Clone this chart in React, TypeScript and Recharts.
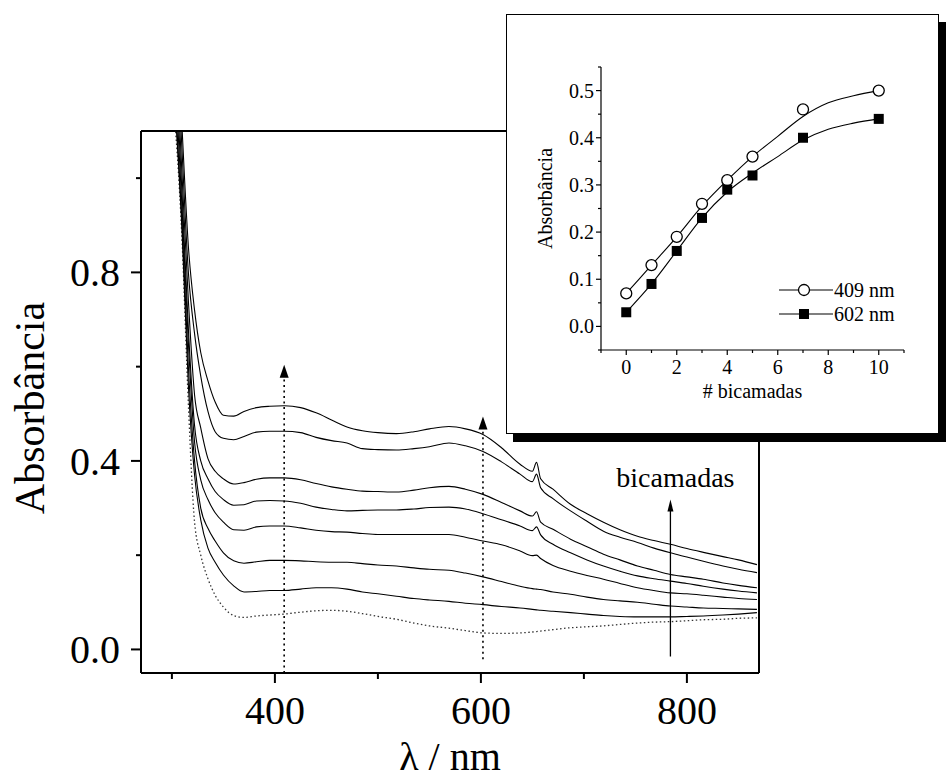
import { ComposedChart, Legend, Line, LineChart, ReferenceLine, XAxis, YAxis } from "recharts";

const FONT = "'Liberation Serif', 'Times New Roman', serif";

// UV-vis spectra, one per number of bilayers (0 = dotted baseline film)
const wavelengths = [
  300, 310, 316, 322, 328, 335, 342, 350, 360, 370, 382, 395, 409, 425, 440, 455, 470, 485, 500, 518, 535,
  550, 569, 585, 602, 620, 638, 650, 654, 658, 670, 687, 703, 719, 735, 752, 768, 784, 800, 816, 835, 850, 868,
];
const spectrum0 = [
  1.2, 0.86, 0.52, 0.27, 0.2, 0.15, 0.115, 0.09, 0.072, 0.068, 0.071, 0.073, 0.075, 0.079, 0.082, 0.083, 0.081,
  0.076, 0.07, 0.064, 0.056, 0.05, 0.045, 0.04, 0.035, 0.034, 0.035, 0.037, 0.038, 0.039, 0.042, 0.046, 0.048,
  0.05, 0.053, 0.056, 0.058, 0.059, 0.061, 0.063, 0.064, 0.066, 0.067,
];
const spectrum1 = [
  1.25, 0.88, 0.56, 0.37, 0.275, 0.215, 0.185, 0.158, 0.135, 0.122, 0.123, 0.125, 0.125, 0.128, 0.131, 0.131,
  0.128, 0.122, 0.118, 0.113, 0.108, 0.105, 0.102, 0.098, 0.095, 0.091, 0.088, 0.085, 0.084, 0.083, 0.081, 0.078,
  0.075, 0.072, 0.07, 0.069, 0.069, 0.069, 0.07, 0.071, 0.073, 0.075, 0.078,
];
const spectrum2 = [
  1.3, 0.9, 0.6, 0.4, 0.3, 0.257, 0.23, 0.205, 0.188, 0.183, 0.186, 0.189, 0.189, 0.188, 0.186, 0.185, 0.185,
  0.182, 0.179, 0.177, 0.173, 0.17, 0.168, 0.162, 0.154, 0.144, 0.134, 0.129, 0.128, 0.127, 0.122, 0.117, 0.111,
  0.106, 0.103, 0.1, 0.096, 0.092, 0.09, 0.088, 0.087, 0.086, 0.085,
];
const spectrum3 = [
  1.35, 0.93, 0.65, 0.44, 0.36, 0.318, 0.29, 0.27, 0.254, 0.253, 0.26, 0.262, 0.262, 0.258, 0.253, 0.25, 0.249,
  0.246, 0.244, 0.244, 0.244, 0.244, 0.244, 0.238, 0.23, 0.222, 0.209, 0.199, 0.2, 0.193, 0.178, 0.166, 0.157,
  0.149, 0.14, 0.131, 0.125, 0.12, 0.118, 0.115, 0.111, 0.108, 0.106,
];
const spectrum4 = [
  1.4, 0.96, 0.68, 0.475, 0.4, 0.362, 0.335, 0.318, 0.306, 0.307, 0.315, 0.316, 0.315, 0.31, 0.302, 0.297,
  0.294, 0.295, 0.296, 0.296, 0.298, 0.301, 0.302, 0.298, 0.288, 0.275, 0.262, 0.252, 0.26, 0.243, 0.223, 0.205,
  0.19, 0.177, 0.166, 0.156, 0.15, 0.145, 0.14, 0.134, 0.128, 0.124, 0.12,
];
const spectrum5 = [
  1.45, 1.0, 0.74, 0.54, 0.47, 0.405, 0.378, 0.362, 0.351, 0.354, 0.361, 0.364, 0.364, 0.36, 0.352, 0.345,
  0.34, 0.336, 0.335, 0.334, 0.338, 0.343, 0.346, 0.34, 0.329, 0.312, 0.294, 0.283, 0.292, 0.27, 0.255, 0.234,
  0.218, 0.202, 0.19, 0.177, 0.168, 0.159, 0.154, 0.149, 0.141, 0.136, 0.131,
];
const spectrum6 = [
  1.5, 1.05, 0.8, 0.67, 0.58, 0.505, 0.462, 0.448, 0.445, 0.452, 0.461, 0.463, 0.463, 0.46, 0.45, 0.443, 0.438,
  0.426, 0.424, 0.423, 0.426, 0.43, 0.438, 0.432, 0.42, 0.398, 0.372, 0.356, 0.372, 0.343, 0.32, 0.294, 0.272,
  0.251, 0.238, 0.227, 0.215, 0.205, 0.196, 0.187, 0.177, 0.17, 0.163,
];
const spectrum7 = [
  1.6, 1.1, 0.855, 0.72, 0.63, 0.57, 0.525, 0.497, 0.495, 0.505, 0.513, 0.516, 0.517, 0.513, 0.502, 0.487, 0.472,
  0.464, 0.46, 0.458, 0.462, 0.468, 0.473, 0.468, 0.456, 0.428, 0.393, 0.378, 0.397, 0.362, 0.34, 0.308, 0.288,
  0.27, 0.254, 0.24, 0.231, 0.223, 0.214, 0.206, 0.197, 0.19, 0.18,
];
const spectra = [spectrum0, spectrum1, spectrum2, spectrum3, spectrum4, spectrum5, spectrum6, spectrum7];

const xTicks = [300, 400, 500, 600, 700, 800];
const xTickLabels = ["", "400", "", "600", "", "800"];
const yTicks = [0, 0.2, 0.4, 0.6, 0.8, 1.0];
const yTickLabels = ["0.0", "", "0.4", "", "0.8", ""];

// arrows drawn on the spectra (wavelength, from absorbance, to absorbance)
const arrow409 = { x: 409, from: -0.05, to: 0.604 };
const arrow602 = { x: 602, from: -0.021, to: 0.494 };
const arrowLayers = { x: 784, from: -0.015, to: 0.318, text: "bicamadas" };

// inset: absorbance vs number of bilayers
const bilayers = [0, 1, 2, 3, 4, 5, 7, 10];
const abs409 = [0.07, 0.13, 0.19, 0.26, 0.31, 0.36, 0.46, 0.5];
const abs602 = [0.03, 0.09, 0.16, 0.23, 0.29, 0.32, 0.4, 0.44];
const fitBilayers = [0, 1, 2, 3, 4, 5, 6, 7, 8, 9, 10];
const fit409 = [0.07, 0.13, 0.19, 0.255, 0.31, 0.36, 0.403, 0.445, 0.474, 0.489, 0.5];
const fit602 = [0.03, 0.09, 0.16, 0.23, 0.285, 0.325, 0.36, 0.395, 0.418, 0.431, 0.44];
const insetNames = ["409 nm", "602 nm"];

const insetXTicks = [-1, 0, 1, 2, 3, 4, 5, 6, 7, 8, 9, 10, 11];
const insetXLabels = ["", "0", "", "2", "", "4", "", "6", "", "8", "", "10", ""];
const insetYTicks = [-0.05, 0, 0.05, 0.1, 0.15, 0.2, 0.25, 0.3, 0.35, 0.4, 0.45, 0.5, 0.55];
const insetYLabels = ["", "0.0", "", "0.1", "", "0.2", "", "0.3", "", "0.4", "", "0.5", ""];

const rows = wavelengths.map((w, i) => {
  const row: Record<string, number> = { w };
  spectra.forEach((s, k) => {
    row[`s${k}`] = s[i];
  });
  return row;
});
const markers409 = bilayers.map((x, i) => ({ x, y: abs409[i] }));
const markers602 = bilayers.map((x, i) => ({ x, y: abs602[i] }));
const curve409 = fitBilayers.map((x, i) => ({ x, y: fit409[i] }));
const curve602 = fitBilayers.map((x, i) => ({ x, y: fit602[i] }));

function MainXTick(props: any) {
  const { x, y, payload } = props;
  const label = xTickLabels[xTicks.indexOf(payload.value)];
  const len = label ? 10 : 6;
  return (
    <g>
      <line x1={x} x2={x} y1={y} y2={y + len} stroke="#000" strokeWidth={2} />
      {label && (
        <text x={x} y={y + 51} textAnchor="middle" fill="#000" style={{ fontFamily: FONT, fontSize: 40 }}>
          {label}
        </text>
      )}
    </g>
  );
}

function MainYTick(props: any) {
  const { x, y, payload } = props;
  const label = yTickLabels[yTicks.indexOf(payload.value)];
  const len = label ? 10 : 5;
  return (
    <g>
      <line x1={x - len} x2={x} y1={y} y2={y} stroke="#000" strokeWidth={2} />
      {label && (
        <text x={x - 21} y={y + 14} textAnchor="end" fill="#000" style={{ fontFamily: FONT, fontSize: 40 }}>
          {label}
        </text>
      )}
    </g>
  );
}

function InsetXTick(props: any) {
  const { x, y, payload } = props;
  const label = insetXLabels[insetXTicks.indexOf(payload.value)];
  return (
    <g>
      <line x1={x} x2={x} y1={y} y2={y + (label ? 5 : 3)} stroke="#000" strokeWidth={1.2} />
      {label && (
        <text x={x} y={y + 24} textAnchor="middle" fill="#000" style={{ fontFamily: FONT, fontSize: 20 }}>
          {label}
        </text>
      )}
    </g>
  );
}

function InsetYTick(props: any) {
  const { x, y, payload } = props;
  const label = insetYLabels[insetYTicks.indexOf(payload.value)];
  return (
    <g>
      <line x1={x - (label ? 5 : 3)} x2={x} y1={y} y2={y} stroke="#000" strokeWidth={1.2} />
      {label && (
        <text x={x - 7} y={y + 7} textAnchor="end" fill="#000" style={{ fontFamily: FONT, fontSize: 20 }}>
          {label}
        </text>
      )}
    </g>
  );
}

function arrowShape(dashed: boolean, text?: string) {
  return (p: any) => {
    const x = p.x1;
    const top = Math.min(p.y1, p.y2);
    const bottom = Math.max(p.y1, p.y2);
    const headH = dashed ? 13 : 12;
    const headW = dashed ? 4.5 : 3;
    return (
      <g>
        <line
          x1={x}
          x2={x}
          y1={bottom}
          y2={top + headH - 1}
          stroke="#000"
          strokeWidth={dashed ? 1.6 : 1.3}
          strokeDasharray={dashed ? "2 3.5" : undefined}
        />
        <polygon points={`${x},${top} ${x - headW},${top + headH} ${x + headW},${top + headH}`} fill="#000" />
        {text && (
          <text x={x + 5} y={top - 13} textAnchor="middle" fill="#000" style={{ fontFamily: FONT, fontSize: 28 }}>
            {text}
          </text>
        )}
      </g>
    );
  };
}

function MainChart() {
  return (
    <LineChart width={946} height={778} data={rows} margin={{ top: 131, right: 187, left: 41, bottom: 35 }}>
      <XAxis
        dataKey="w"
        type="number"
        domain={[270, 870]}
        allowDataOverflow
        ticks={xTicks}
        interval={0}
        tickSize={0}
        tickMargin={0}
        tickLine={false}
        tick={MainXTick}
        height={70}
        axisLine={{ stroke: "#000", strokeWidth: 2 }}
        label={(p: any) => (
          <text
            x={p.viewBox.x + p.viewBox.width / 2}
            y={p.viewBox.y + 97}
            textAnchor="middle"
            fill="#000"
            style={{ fontFamily: FONT, fontSize: 40 }}
          >
            λ / nm
          </text>
        )}
      />
      <YAxis
        type="number"
        domain={[-0.05, 1.1]}
        allowDataOverflow
        ticks={yTicks}
        interval={0}
        tickSize={0}
        tickMargin={0}
        tickLine={false}
        tick={MainYTick}
        width={100}
        axisLine={{ stroke: "#000", strokeWidth: 2 }}
        label={(p: any) => {
          const cx = p.viewBox.x + 3;
          const cy = p.viewBox.y + p.viewBox.height / 2 + 6;
          return (
            <text
              x={cx}
              y={cy}
              textAnchor="middle"
              fill="#000"
              transform={`rotate(-90 ${cx} ${cy})`}
              style={{ fontFamily: FONT, fontSize: 42 }}
            >
              Absorbância
            </text>
          );
        }}
      />
      <ReferenceLine y={1.1} stroke="#000" strokeWidth={2} />
      <ReferenceLine x={870} stroke="#000" strokeWidth={2} />
      {spectra.map((_, k) => (
        <Line
          key={k}
          type="monotone"
          dataKey={`s${k}`}
          stroke={k === 0 ? "#333" : "#000"}
          strokeWidth={k === 0 ? 1.3 : 1.1}
          strokeDasharray={k === 0 ? "1.5 2.5" : undefined}
          dot={false}
          isAnimationActive={false}
        />
      ))}
      <ReferenceLine
        segment={[
          { x: arrow409.x, y: arrow409.from },
          { x: arrow409.x, y: arrow409.to },
        ]}
        ifOverflow="visible"
        shape={arrowShape(true)}
      />
      <ReferenceLine
        segment={[
          { x: arrow602.x, y: arrow602.from },
          { x: arrow602.x, y: arrow602.to },
        ]}
        ifOverflow="visible"
        shape={arrowShape(true)}
      />
      <ReferenceLine
        segment={[
          { x: arrowLayers.x, y: arrowLayers.from },
          { x: arrowLayers.x, y: arrowLayers.to },
        ]}
        ifOverflow="visible"
        shape={arrowShape(false, arrowLayers.text)}
      />
    </LineChart>
  );
}

function CircleDot(p: any) {
  if (p.cx == null || p.cy == null) return <g key={p.index} />;
  return <circle key={p.index} cx={p.cx} cy={p.cy} r={5.5} fill="#fff" stroke="#000" strokeWidth={1.3} />;
}

function SquareDot(p: any) {
  if (p.cx == null || p.cy == null) return <g key={p.index} />;
  return <rect key={p.index} x={p.cx - 5} y={p.cy - 5} width={10} height={10} fill="#000" />;
}

function InsetLegend() {
  return (
    <svg width={130} height={52} style={{ overflow: "visible" }}>
      {insetNames.map((name, i) => {
        const cy = 14 + i * 24;
        return (
          <g key={name}>
            <line x1={0} x2={54} y1={cy} y2={cy} stroke="#000" strokeWidth={1.1} />
            {i === 0 ? (
              <circle cx={25} cy={cy} r={5.5} fill="#fff" stroke="#000" strokeWidth={1.3} />
            ) : (
              <rect x={20} y={cy - 5} width={10} height={10} fill="#000" />
            )}
            <text x={55} y={cy + 7} fill="#000" style={{ fontFamily: FONT, fontSize: 20 }}>
              {name}
            </text>
          </g>
        );
      })}
    </svg>
  );
}

function InsetChart() {
  return (
    <ComposedChart width={433} height={420} margin={{ top: 53, right: 35, left: 35, bottom: 34 }}>
      <XAxis
        dataKey="x"
        type="number"
        domain={[-1, 11]}
        ticks={insetXTicks}
        interval={0}
        tickSize={0}
        tickMargin={0}
        tickLine={false}
        tick={InsetXTick}
        height={50}
        axisLine={{ stroke: "#000", strokeWidth: 1.2 }}
        label={(p: any) => (
          <text
            x={p.viewBox.x + p.viewBox.width / 2}
            y={p.viewBox.y + 48}
            textAnchor="middle"
            fill="#000"
            style={{ fontFamily: FONT, fontSize: 20 }}
          >
            # bicamadas
          </text>
        )}
      />
      <YAxis
        type="number"
        domain={[-0.05, 0.55]}
        ticks={insetYTicks}
        interval={0}
        tickSize={0}
        tickMargin={0}
        tickLine={false}
        tick={InsetYTick}
        width={60}
        axisLine={{ stroke: "#000", strokeWidth: 1.2 }}
        label={(p: any) => {
          const cx = p.viewBox.x + 11;
          const cy = p.viewBox.y + p.viewBox.height / 2 - 10;
          return (
            <text
              x={cx}
              y={cy}
              textAnchor="middle"
              fill="#000"
              transform={`rotate(-90 ${cx} ${cy})`}
              style={{ fontFamily: FONT, fontSize: 20 }}
            >
              Absorbância
            </text>
          );
        }}
      />
      <Line data={curve409} dataKey="y" type="monotone" stroke="#000" strokeWidth={1.1} dot={false} isAnimationActive={false} />
      <Line data={curve602} dataKey="y" type="monotone" stroke="#000" strokeWidth={1.1} dot={false} isAnimationActive={false} />
      <Line data={markers409} dataKey="y" stroke="none" dot={CircleDot} isAnimationActive={false} />
      <Line data={markers602} dataKey="y" stroke="none" dot={SquareDot} isAnimationActive={false} />
      <Legend
        layout="vertical"
        align="center"
        verticalAlign="middle"
        content={InsetLegend}
        wrapperStyle={{ left: 273, top: 262, width: 130, height: 52 }}
      />
    </ComposedChart>
  );
}

export default function App() {
  return (
    <div style={{ position: "absolute", left: 0, top: 0, width: 946, height: 778, background: "#fff", overflow: "hidden" }}>
      <div style={{ position: "absolute", left: 0, top: 0 }}>
        <MainChart />
      </div>
      <div
        style={{
          position: "absolute",
          left: 506,
          top: 14,
          width: 433,
          height: 420,
          boxSizing: "border-box",
          border: "1.5px solid #000",
          background: "#fff",
          boxShadow: "7px 8px 0 #000",
        }}
      />
      <div style={{ position: "absolute", left: 506, top: 14 }}>
        <InsetChart />
      </div>
    </div>
  );
}
